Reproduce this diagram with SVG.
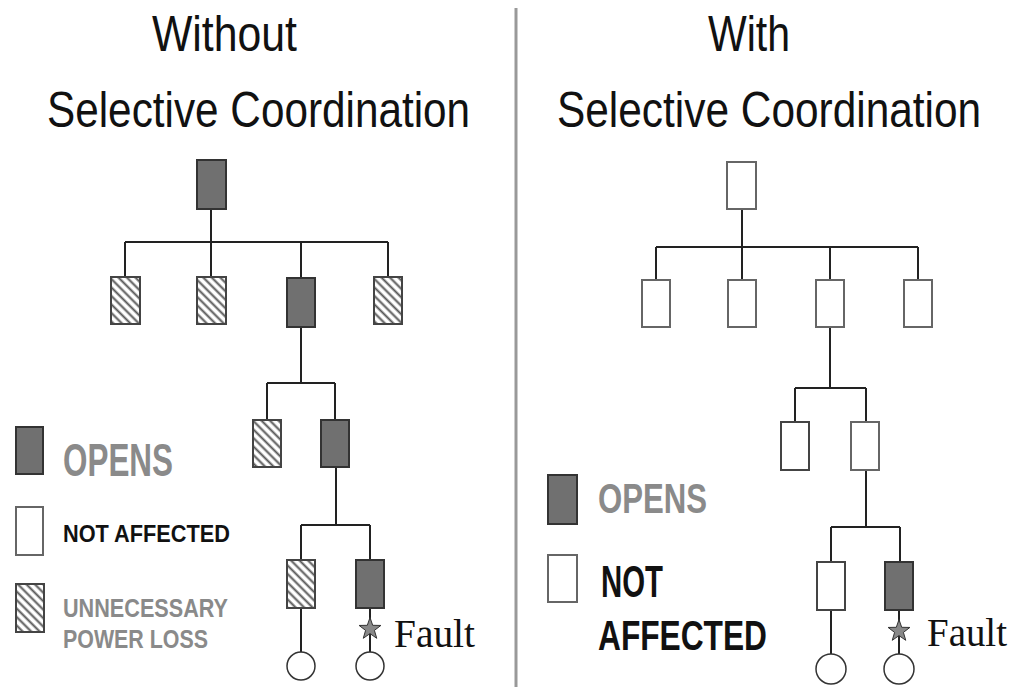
<svg xmlns="http://www.w3.org/2000/svg" width="1010" height="687" viewBox="0 0 1010 687">
<style>
.title{font-family:"Liberation Sans",Arial,sans-serif;font-size:50px;fill:#111}
.leg{font-family:"Liberation Sans",Arial,sans-serif;font-weight:bold}
.gray{fill:#8a8a8a}
.blk{fill:#111}
.fault{font-family:"Liberation Serif","Times New Roman",serif;font-size:40px;fill:#111}
.dark{fill:#707070;stroke:#333;stroke-width:2}
.white{fill:#fff;stroke:#444;stroke-width:2}
.wgray{fill:#fff;stroke:#666;stroke-width:2}
.hatch{fill:url(#hatch);stroke:#444;stroke-width:2}
.wire{stroke:#222;stroke-width:2;fill:none}
.load{fill:#fff;stroke:#333;stroke-width:1.5}
.star{fill:#888;stroke:#333;stroke-width:1}
</style>
<defs>
<pattern id="hatch" patternUnits="userSpaceOnUse" width="6" height="6" patternTransform="rotate(-45)">
<rect width="6" height="6" fill="#fff"/>
<line x1="1.5" y1="0" x2="1.5" y2="6" stroke="#555" stroke-width="2"/>
</pattern>
<polygon id="starShape" points="0,-11.5 2.7,-3.7 10.9,-3.55 4.4,1.4 6.75,9.3 0,4.6 -6.75,9.3 -4.4,1.4 -10.9,-3.55 -2.7,-3.7"/>
</defs>
<rect width="1010" height="687" fill="#fff"/>
<line x1="516" y1="8" x2="516" y2="687" stroke="#999" stroke-width="3"/>
<g id="titles">
<text class="title" x="152" y="51" textLength="145" lengthAdjust="spacingAndGlyphs">Without</text>
<text class="title" transform="translate(47,127) scale(0.846,1)">Selective Coordination</text>
<text class="title" x="708" y="51" textLength="82" lengthAdjust="spacingAndGlyphs">With</text>
<text class="title" transform="translate(557,127) scale(0.848,1)">Selective Coordination</text>
</g>
<g id="connectors">
<path class="wire" d="M211,209V242M125,242H388M125,242V277M211,242V277M301,242V278M388,242V277"/>
<path class="wire" d="M301,327V383M267,383H335M267,383V420M335,383V420"/>
<path class="wire" d="M336,467V525M301,525H370M301,525V560M370,525V560"/>
<path class="wire" d="M301,608V652M370,608V652"/>
<path class="wire" d="M742,209V247M656,247H918M656,247V280M742,247V280M830,247V280M918,247V280"/>
<path class="wire" d="M830,327V388M795,388H866M795,388V422M866,388V422"/>
<path class="wire" d="M866,470V527M831,527H900M831,527V562M900,527V562"/>
<path class="wire" d="M831,610V654M899,610V654"/>
</g>
<g id="left-main"><rect class="dark" x="197" y="160" width="29" height="49"/></g>
<g id="left-f1"><rect class="hatch" x="111" y="277" width="29" height="47"/></g>
<g id="left-f2"><rect class="hatch" x="197" y="277" width="29" height="47"/></g>
<g id="left-f3"><rect class="dark" x="287" y="278" width="28" height="49"/></g>
<g id="left-f4"><rect class="hatch" x="374" y="277" width="28" height="47"/></g>
<g id="left-s1"><rect class="hatch" x="253" y="420" width="28" height="47"/></g>
<g id="left-s2"><rect class="dark" x="321" y="420" width="28" height="47"/></g>
<g id="left-b1"><rect class="hatch" x="287" y="560" width="28" height="48"/></g>
<g id="left-b2"><rect class="dark" x="356" y="560" width="28" height="48"/></g>
<g id="left-load1"><circle class="load" cx="301" cy="666" r="14"/></g>
<g id="left-load2"><circle class="load" cx="370" cy="666" r="14"/></g>
<g id="left-fault"><use href="#starShape" class="star" x="370" y="629"/><text class="fault" x="394" y="647" textLength="81" lengthAdjust="spacingAndGlyphs">Fault</text></g>
<g id="right-main"><rect class="wgray" x="727" y="162" width="29" height="47"/></g>
<g id="right-f1"><rect class="wgray" x="642" y="280" width="28" height="47"/></g>
<g id="right-f2"><rect class="wgray" x="728" y="280" width="28" height="47"/></g>
<g id="right-f3"><rect class="wgray" x="816" y="280" width="28" height="47"/></g>
<g id="right-f4"><rect class="wgray" x="904" y="280" width="28" height="47"/></g>
<g id="right-s1"><rect class="white" x="781" y="422" width="28" height="48"/></g>
<g id="right-s2"><rect class="wgray" x="851" y="422" width="28" height="48"/></g>
<g id="right-b1"><rect class="white" x="817" y="562" width="28" height="48"/></g>
<g id="right-b2"><rect class="dark" x="885" y="562" width="28" height="48"/></g>
<g id="right-load1"><circle class="load" cx="831" cy="669" r="15"/></g>
<g id="right-load2"><circle class="load" cx="899" cy="669" r="15"/></g>
<g id="right-fault"><use href="#starShape" class="star" x="899" y="631"/><text class="fault" x="927" y="646" textLength="80" lengthAdjust="spacingAndGlyphs">Fault</text></g>
<g id="legend-left">
<rect class="dark" x="16" y="427" width="27" height="47"/>
<text class="leg gray" x="63" y="476" font-size="46" textLength="110" lengthAdjust="spacingAndGlyphs">OPENS</text>
<rect class="wgray" x="16" y="507" width="27" height="48"/>
<text class="leg blk" x="63" y="542" font-size="24" textLength="167" lengthAdjust="spacingAndGlyphs">NOT AFFECTED</text>
<rect class="hatch" x="16" y="584" width="28" height="48"/>
<text class="leg gray" x="63" y="617" font-size="25" textLength="165" lengthAdjust="spacingAndGlyphs">UNNECESSARY</text>
<text class="leg gray" x="63" y="648" font-size="25" textLength="145" lengthAdjust="spacingAndGlyphs">POWER LOSS</text>
</g>
<g id="legend-right">
<rect class="dark" x="548" y="475" width="29" height="49" stroke="#555"/>
<text class="leg gray" x="598" y="513" font-size="42" textLength="109" lengthAdjust="spacingAndGlyphs">OPENS</text>
<rect class="wgray" x="548" y="555" width="29" height="47"/>
<text class="leg blk" x="601" y="597" font-size="44" textLength="62" lengthAdjust="spacingAndGlyphs">NOT</text>
<text class="leg blk" x="598" y="650" font-size="42" textLength="169" lengthAdjust="spacingAndGlyphs">AFFECTED</text>
</g>
</svg>
